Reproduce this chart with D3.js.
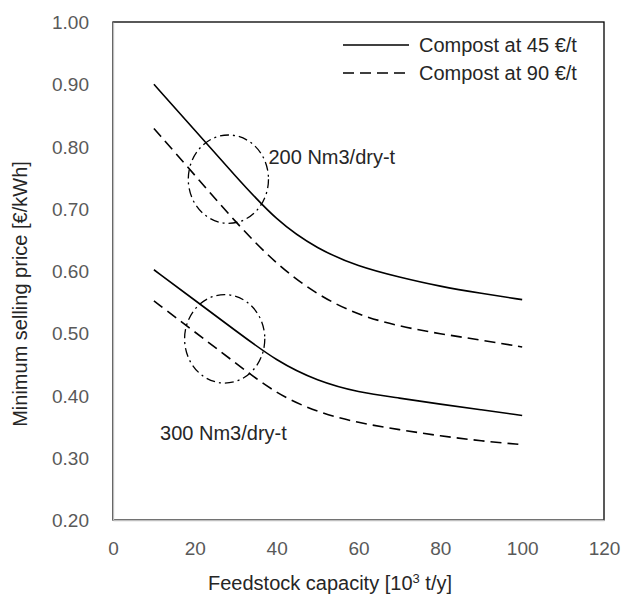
<!DOCTYPE html>
<html>
<head>
<meta charset="utf-8">
<script src="https://cdn.jsdelivr.net/npm/d3@7"></script>
<style>
  body { margin: 0; background: #fff; }
  svg { font-family: "Liberation Sans", Arial, sans-serif; }
</style>
</head>
<body>
<svg id="chart" width="621" height="602"></svg>
<script>
// data
const capacity = [10, 20, 30, 40, 50, 60, 70, 80, 90, 100];
const price45At200 = [0.900, 0.826, 0.752, 0.680, 0.635, 0.607, 0.590, 0.575, 0.564, 0.554];
const price90At200 = [0.829, 0.754, 0.678, 0.610, 0.561, 0.529, 0.511, 0.499, 0.489, 0.478];
const price45At300 = [0.602, 0.553, 0.504, 0.455, 0.423, 0.405, 0.396, 0.386, 0.377, 0.368];
const price90At300 = [0.552, 0.502, 0.452, 0.402, 0.373, 0.356, 0.345, 0.335, 0.327, 0.321];
const xTicks = [0, 20, 40, 60, 80, 100, 120];
const yTicks = [0.2, 0.3, 0.4, 0.5, 0.6, 0.7, 0.8, 0.9, 1.0];
const legendLabels = ["Compost at 45 €/t", "Compost at 90 €/t"];
const ringCenters = [[28.2, 0.7475], [27.3, 0.491]];
const ringRadius = [9.8, 0.071];
const notes = [["200 Nm3/dry-t", 38, 0.772], ["300 Nm3/dry-t", 11.5, 0.329]];

const svg = d3.select("#chart");
const x = d3.scaleLinear().domain([0, 120]).range([113, 604]);
const y = d3.scaleLinear().domain([0.2, 1.0]).range([520, 22]);

const tickColor = "#595959";
const textColor = "#262626";

// plot border
svg.append("rect")
  .attr("x", x(0)).attr("y", y(1))
  .attr("width", x(120) - x(0)).attr("height", y(0.2) - y(1))
  .attr("fill", "none").attr("stroke", "#000").attr("stroke-width", 1.3);

const xAxis = svg.append("g")
  .attr("transform", `translate(0,${y(0.2)})`)
  .call(d3.axisBottom(x).tickValues(xTicks).tickSize(0).tickPadding(22).tickFormat(d3.format("d")));
const yAxis = svg.append("g")
  .attr("transform", `translate(${x(0)},0)`)
  .call(d3.axisLeft(y).tickValues(yTicks).tickSize(0).tickPadding(24).tickFormat(d3.format(".2f")));

[xAxis, yAxis].forEach((g) => {
  g.select(".domain").attr("stroke", "#bfbfbf").attr("stroke-width", 1.3);
  g.selectAll("text")
    .attr("fill", tickColor)
    .style("font-size", "19px")
    .style("font-family", "Liberation Sans, Arial, sans-serif");
});
yAxis.selectAll("text").attr("dy", "0.35em");

// series
const series = [
  { values: price45At200, dash: null },
  { values: price90At200, dash: "11,6" },
  { values: price45At300, dash: null },
  { values: price90At300, dash: "11,6" },
];
const line = d3.line()
  .x((d) => x(d[0]))
  .y((d) => y(d[1]))
  .curve(d3.curveBasis);

series.forEach((s) => {
  svg.append("path")
    .datum(capacity.map((c, i) => [c, s.values[i]]))
    .attr("d", line)
    .attr("fill", "none")
    .attr("stroke", "#000")
    .attr("stroke-width", 1.6)
    .attr("stroke-dasharray", s.dash);
});

// dash-dot rings
ringCenters.forEach((c) => {
  svg.append("ellipse")
    .attr("cx", x(c[0]))
    .attr("cy", y(c[1]))
    .attr("rx", x(ringRadius[0]) - x(0))
    .attr("ry", y(0.2) - y(0.2 + ringRadius[1]))
    .attr("fill", "none")
    .attr("stroke", "#000")
    .attr("stroke-width", 1.3)
    .attr("stroke-dasharray", "9,4,2,4");
});

notes.forEach((n) => {
  svg.append("text")
    .attr("x", x(n[1]))
    .attr("y", y(n[2]))
    .attr("fill", textColor)
    .style("font-size", "20px")
    .text(n[0]);
});

// legend
const legendX1 = 343;
const legendX2 = 409;
const legendY = 45;
const legendStep = 28;
legendLabels.forEach((label, i) => {
  const ly = legendY + i * legendStep;
  svg.append("line")
    .attr("x1", legendX1).attr("x2", legendX2)
    .attr("y1", ly).attr("y2", ly)
    .attr("stroke", "#000").attr("stroke-width", 1.6)
    .attr("stroke-dasharray", i == 1 ? "11,6" : null);
  svg.append("text")
    .attr("x", 419).attr("y", ly)
    .attr("dy", "0.35em")
    .attr("fill", textColor)
    .style("font-size", "20px")
    .text(label);
});

// axis titles
const xTitle = svg.append("text")
  .attr("x", 330).attr("y", 590)
  .attr("text-anchor", "middle")
  .attr("fill", textColor)
  .style("font-size", "20px");
xTitle.append("tspan").text("Feedstock capacity [10");
xTitle.append("tspan").attr("dy", -7).style("font-size", "13px").text("3");
xTitle.append("tspan").attr("dy", 7).text(" t/y]");

svg.append("text")
  .attr("transform", "translate(27,294) rotate(-90)")
  .attr("text-anchor", "middle")
  .attr("fill", textColor)
  .style("font-size", "20px")
  .text("Minimum selling price [€/kWh]");
</script>
</body>
</html>
